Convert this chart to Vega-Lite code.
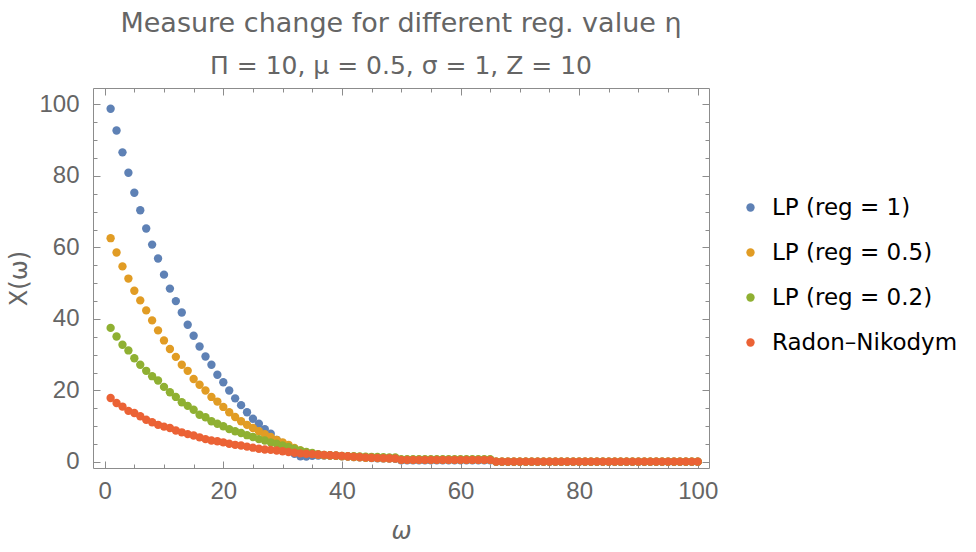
{
"$schema": "https://vega.github.io/schema/vega-lite/v6.json",
"width": 616, "height": 380,
"autosize": {"type": "none"},
"padding": {"left": 93, "top": 88, "right": 267, "bottom": 84},
"background": "white",
"title": {"text": "Measure change for different reg. value η", "subtitle": "Π = 10, μ = 0.5, σ = 1, Z = 10", "font": "DejaVu Sans", "fontSize": 27, "fontWeight": "normal", "color": "#656565", "subtitleFont": "DejaVu Sans", "subtitleFontSize": 25, "subtitleColor": "#656565", "subtitlePadding": 16, "anchor": "middle", "offset": 8},
"config": {
  "view": {"stroke": null},
  "axis": {"labelFont": "Liberation Sans", "titleFont": "DejaVu Sans", "labelFontSize": 24, "labelColor": "#656565", "titleColor": "#656565", "titleFontSize": 24, "titleFontWeight": "normal", "domainColor": "#8c8c8c", "tickColor": "#8c8c8c", "grid": false, "labelFlush": false, "labelOverlap": false}
},
"datasets": {"pts": [
{"w":1,"v":98.8,"s":"LP (reg = 1)"},{"w":2,"v":92.7,"s":"LP (reg = 1)"},{"w":3,"v":86.6,"s":"LP (reg = 1)"},{"w":4,"v":80.9,"s":"LP (reg = 1)"},{"w":5,"v":75.3,"s":"LP (reg = 1)"},{"w":6,"v":70.4,"s":"LP (reg = 1)"},{"w":7,"v":65.3,"s":"LP (reg = 1)"},{"w":8,"v":60.8,"s":"LP (reg = 1)"},{"w":9,"v":56.9,"s":"LP (reg = 1)"},{"w":10,"v":52.4,"s":"LP (reg = 1)"},
{"w":11,"v":48.5,"s":"LP (reg = 1)"},{"w":12,"v":45.0,"s":"LP (reg = 1)"},{"w":13,"v":41.8,"s":"LP (reg = 1)"},{"w":14,"v":38.4,"s":"LP (reg = 1)"},{"w":15,"v":35.3,"s":"LP (reg = 1)"},{"w":16,"v":32.3,"s":"LP (reg = 1)"},{"w":17,"v":29.5,"s":"LP (reg = 1)"},{"w":18,"v":27.2,"s":"LP (reg = 1)"},{"w":19,"v":24.4,"s":"LP (reg = 1)"},{"w":20,"v":22.3,"s":"LP (reg = 1)"},
{"w":21,"v":20.0,"s":"LP (reg = 1)"},{"w":22,"v":17.8,"s":"LP (reg = 1)"},{"w":23,"v":15.9,"s":"LP (reg = 1)"},{"w":24,"v":13.9,"s":"LP (reg = 1)"},{"w":25,"v":12.1,"s":"LP (reg = 1)"},{"w":26,"v":10.7,"s":"LP (reg = 1)"},{"w":27,"v":9.2,"s":"LP (reg = 1)"},{"w":28,"v":7.9,"s":"LP (reg = 1)"},{"w":29,"v":6.2,"s":"LP (reg = 1)"},{"w":30,"v":4.8,"s":"LP (reg = 1)"},
{"w":31,"v":3.4,"s":"LP (reg = 1)"},{"w":32,"v":2.3,"s":"LP (reg = 1)"},{"w":33,"v":1.6,"s":"LP (reg = 1)"},{"w":34,"v":1.5,"s":"LP (reg = 1)"},{"w":35,"v":1.7,"s":"LP (reg = 1)"},{"w":36,"v":1.8,"s":"LP (reg = 1)"},{"w":37,"v":1.8,"s":"LP (reg = 1)"},{"w":38,"v":1.8,"s":"LP (reg = 1)"},{"w":39,"v":1.7,"s":"LP (reg = 1)"},{"w":40,"v":1.6,"s":"LP (reg = 1)"},
{"w":41,"v":1.5,"s":"LP (reg = 1)"},{"w":42,"v":1.4,"s":"LP (reg = 1)"},{"w":43,"v":1.3,"s":"LP (reg = 1)"},{"w":44,"v":1.2,"s":"LP (reg = 1)"},{"w":45,"v":1.1,"s":"LP (reg = 1)"},{"w":46,"v":1.05,"s":"LP (reg = 1)"},{"w":47,"v":1.0,"s":"LP (reg = 1)"},{"w":48,"v":0.95,"s":"LP (reg = 1)"},{"w":49,"v":0.9,"s":"LP (reg = 1)"},{"w":50,"v":0.5,"s":"LP (reg = 1)"},
{"w":51,"v":0.5,"s":"LP (reg = 1)"},{"w":52,"v":0.5,"s":"LP (reg = 1)"},{"w":53,"v":0.5,"s":"LP (reg = 1)"},{"w":54,"v":0.5,"s":"LP (reg = 1)"},{"w":55,"v":0.5,"s":"LP (reg = 1)"},{"w":56,"v":0.5,"s":"LP (reg = 1)"},{"w":57,"v":0.5,"s":"LP (reg = 1)"},{"w":58,"v":0.5,"s":"LP (reg = 1)"},{"w":59,"v":0.5,"s":"LP (reg = 1)"},{"w":60,"v":0.5,"s":"LP (reg = 1)"},
{"w":61,"v":0.5,"s":"LP (reg = 1)"},{"w":62,"v":0.5,"s":"LP (reg = 1)"},{"w":63,"v":0.5,"s":"LP (reg = 1)"},{"w":64,"v":0.5,"s":"LP (reg = 1)"},{"w":65,"v":0.5,"s":"LP (reg = 1)"},{"w":66,"v":0.05,"s":"LP (reg = 1)"},{"w":67,"v":0.05,"s":"LP (reg = 1)"},{"w":68,"v":0.05,"s":"LP (reg = 1)"},{"w":69,"v":0.05,"s":"LP (reg = 1)"},{"w":70,"v":0.05,"s":"LP (reg = 1)"},
{"w":71,"v":0.05,"s":"LP (reg = 1)"},{"w":72,"v":0.05,"s":"LP (reg = 1)"},{"w":73,"v":0.05,"s":"LP (reg = 1)"},{"w":74,"v":0.05,"s":"LP (reg = 1)"},{"w":75,"v":0.05,"s":"LP (reg = 1)"},{"w":76,"v":0.05,"s":"LP (reg = 1)"},{"w":77,"v":0.05,"s":"LP (reg = 1)"},{"w":78,"v":0.05,"s":"LP (reg = 1)"},{"w":79,"v":0.05,"s":"LP (reg = 1)"},{"w":80,"v":0.05,"s":"LP (reg = 1)"},
{"w":81,"v":0.05,"s":"LP (reg = 1)"},{"w":82,"v":0.05,"s":"LP (reg = 1)"},{"w":83,"v":0.05,"s":"LP (reg = 1)"},{"w":84,"v":0.05,"s":"LP (reg = 1)"},{"w":85,"v":0.05,"s":"LP (reg = 1)"},{"w":86,"v":0.05,"s":"LP (reg = 1)"},{"w":87,"v":0.05,"s":"LP (reg = 1)"},{"w":88,"v":0.05,"s":"LP (reg = 1)"},{"w":89,"v":0.05,"s":"LP (reg = 1)"},{"w":90,"v":0.05,"s":"LP (reg = 1)"},
{"w":91,"v":0.05,"s":"LP (reg = 1)"},{"w":92,"v":0.05,"s":"LP (reg = 1)"},{"w":93,"v":0.05,"s":"LP (reg = 1)"},{"w":94,"v":0.05,"s":"LP (reg = 1)"},{"w":95,"v":0.05,"s":"LP (reg = 1)"},{"w":96,"v":0.05,"s":"LP (reg = 1)"},{"w":97,"v":0.05,"s":"LP (reg = 1)"},{"w":98,"v":0.05,"s":"LP (reg = 1)"},{"w":99,"v":0.05,"s":"LP (reg = 1)"},{"w":100,"v":0.05,"s":"LP (reg = 1)"},
{"w":1,"v":62.6,"s":"LP (reg = 0.5)"},{"w":2,"v":58.6,"s":"LP (reg = 0.5)"},{"w":3,"v":54.7,"s":"LP (reg = 0.5)"},{"w":4,"v":51.3,"s":"LP (reg = 0.5)"},{"w":5,"v":47.9,"s":"LP (reg = 0.5)"},{"w":6,"v":45.2,"s":"LP (reg = 0.5)"},{"w":7,"v":42.4,"s":"LP (reg = 0.5)"},{"w":8,"v":39.6,"s":"LP (reg = 0.5)"},{"w":9,"v":36.8,"s":"LP (reg = 0.5)"},{"w":10,"v":34.0,"s":"LP (reg = 0.5)"},
{"w":11,"v":31.6,"s":"LP (reg = 0.5)"},{"w":12,"v":29.4,"s":"LP (reg = 0.5)"},{"w":13,"v":27.2,"s":"LP (reg = 0.5)"},{"w":14,"v":25.5,"s":"LP (reg = 0.5)"},{"w":15,"v":23.2,"s":"LP (reg = 0.5)"},{"w":16,"v":21.6,"s":"LP (reg = 0.5)"},{"w":17,"v":20.0,"s":"LP (reg = 0.5)"},{"w":18,"v":18.2,"s":"LP (reg = 0.5)"},{"w":19,"v":16.9,"s":"LP (reg = 0.5)"},{"w":20,"v":15.4,"s":"LP (reg = 0.5)"},
{"w":21,"v":13.9,"s":"LP (reg = 0.5)"},{"w":22,"v":12.6,"s":"LP (reg = 0.5)"},{"w":23,"v":11.4,"s":"LP (reg = 0.5)"},{"w":24,"v":10.4,"s":"LP (reg = 0.5)"},{"w":25,"v":9.5,"s":"LP (reg = 0.5)"},{"w":26,"v":8.6,"s":"LP (reg = 0.5)"},{"w":27,"v":7.8,"s":"LP (reg = 0.5)"},{"w":28,"v":7.0,"s":"LP (reg = 0.5)"},{"w":29,"v":6.2,"s":"LP (reg = 0.5)"},{"w":30,"v":5.5,"s":"LP (reg = 0.5)"},
{"w":31,"v":4.8,"s":"LP (reg = 0.5)"},{"w":32,"v":3.9,"s":"LP (reg = 0.5)"},{"w":33,"v":3.2,"s":"LP (reg = 0.5)"},{"w":34,"v":2.7,"s":"LP (reg = 0.5)"},{"w":35,"v":2.3,"s":"LP (reg = 0.5)"},{"w":36,"v":2.0,"s":"LP (reg = 0.5)"},{"w":37,"v":1.9,"s":"LP (reg = 0.5)"},{"w":38,"v":1.8,"s":"LP (reg = 0.5)"},{"w":39,"v":1.7,"s":"LP (reg = 0.5)"},{"w":40,"v":1.6,"s":"LP (reg = 0.5)"},
{"w":41,"v":1.5,"s":"LP (reg = 0.5)"},{"w":42,"v":1.4,"s":"LP (reg = 0.5)"},{"w":43,"v":1.3,"s":"LP (reg = 0.5)"},{"w":44,"v":1.2,"s":"LP (reg = 0.5)"},{"w":45,"v":1.15,"s":"LP (reg = 0.5)"},{"w":46,"v":1.1,"s":"LP (reg = 0.5)"},{"w":47,"v":1.05,"s":"LP (reg = 0.5)"},{"w":48,"v":1.0,"s":"LP (reg = 0.5)"},{"w":49,"v":1.0,"s":"LP (reg = 0.5)"},{"w":50,"v":0.6,"s":"LP (reg = 0.5)"},
{"w":51,"v":0.6,"s":"LP (reg = 0.5)"},{"w":52,"v":0.6,"s":"LP (reg = 0.5)"},{"w":53,"v":0.6,"s":"LP (reg = 0.5)"},{"w":54,"v":0.6,"s":"LP (reg = 0.5)"},{"w":55,"v":0.6,"s":"LP (reg = 0.5)"},{"w":56,"v":0.6,"s":"LP (reg = 0.5)"},{"w":57,"v":0.6,"s":"LP (reg = 0.5)"},{"w":58,"v":0.6,"s":"LP (reg = 0.5)"},{"w":59,"v":0.6,"s":"LP (reg = 0.5)"},{"w":60,"v":0.6,"s":"LP (reg = 0.5)"},
{"w":61,"v":0.6,"s":"LP (reg = 0.5)"},{"w":62,"v":0.6,"s":"LP (reg = 0.5)"},{"w":63,"v":0.6,"s":"LP (reg = 0.5)"},{"w":64,"v":0.6,"s":"LP (reg = 0.5)"},{"w":65,"v":0.6,"s":"LP (reg = 0.5)"},{"w":66,"v":0.1,"s":"LP (reg = 0.5)"},{"w":67,"v":0.1,"s":"LP (reg = 0.5)"},{"w":68,"v":0.1,"s":"LP (reg = 0.5)"},{"w":69,"v":0.1,"s":"LP (reg = 0.5)"},{"w":70,"v":0.1,"s":"LP (reg = 0.5)"},
{"w":71,"v":0.1,"s":"LP (reg = 0.5)"},{"w":72,"v":0.1,"s":"LP (reg = 0.5)"},{"w":73,"v":0.1,"s":"LP (reg = 0.5)"},{"w":74,"v":0.1,"s":"LP (reg = 0.5)"},{"w":75,"v":0.1,"s":"LP (reg = 0.5)"},{"w":76,"v":0.1,"s":"LP (reg = 0.5)"},{"w":77,"v":0.1,"s":"LP (reg = 0.5)"},{"w":78,"v":0.1,"s":"LP (reg = 0.5)"},{"w":79,"v":0.1,"s":"LP (reg = 0.5)"},{"w":80,"v":0.1,"s":"LP (reg = 0.5)"},
{"w":81,"v":0.1,"s":"LP (reg = 0.5)"},{"w":82,"v":0.1,"s":"LP (reg = 0.5)"},{"w":83,"v":0.1,"s":"LP (reg = 0.5)"},{"w":84,"v":0.1,"s":"LP (reg = 0.5)"},{"w":85,"v":0.1,"s":"LP (reg = 0.5)"},{"w":86,"v":0.1,"s":"LP (reg = 0.5)"},{"w":87,"v":0.1,"s":"LP (reg = 0.5)"},{"w":88,"v":0.1,"s":"LP (reg = 0.5)"},{"w":89,"v":0.1,"s":"LP (reg = 0.5)"},{"w":90,"v":0.1,"s":"LP (reg = 0.5)"},
{"w":91,"v":0.1,"s":"LP (reg = 0.5)"},{"w":92,"v":0.1,"s":"LP (reg = 0.5)"},{"w":93,"v":0.1,"s":"LP (reg = 0.5)"},{"w":94,"v":0.1,"s":"LP (reg = 0.5)"},{"w":95,"v":0.1,"s":"LP (reg = 0.5)"},{"w":96,"v":0.1,"s":"LP (reg = 0.5)"},{"w":97,"v":0.1,"s":"LP (reg = 0.5)"},{"w":98,"v":0.1,"s":"LP (reg = 0.5)"},{"w":99,"v":0.1,"s":"LP (reg = 0.5)"},{"w":100,"v":0.1,"s":"LP (reg = 0.5)"},
{"w":1,"v":37.5,"s":"LP (reg = 0.2)"},{"w":2,"v":35.1,"s":"LP (reg = 0.2)"},{"w":3,"v":32.8,"s":"LP (reg = 0.2)"},{"w":4,"v":31.2,"s":"LP (reg = 0.2)"},{"w":5,"v":29.0,"s":"LP (reg = 0.2)"},{"w":6,"v":27.2,"s":"LP (reg = 0.2)"},{"w":7,"v":25.5,"s":"LP (reg = 0.2)"},{"w":8,"v":24.0,"s":"LP (reg = 0.2)"},{"w":9,"v":22.8,"s":"LP (reg = 0.2)"},{"w":10,"v":21.0,"s":"LP (reg = 0.2)"},
{"w":11,"v":19.5,"s":"LP (reg = 0.2)"},{"w":12,"v":18.2,"s":"LP (reg = 0.2)"},{"w":13,"v":16.7,"s":"LP (reg = 0.2)"},{"w":14,"v":15.7,"s":"LP (reg = 0.2)"},{"w":15,"v":14.6,"s":"LP (reg = 0.2)"},{"w":16,"v":13.2,"s":"LP (reg = 0.2)"},{"w":17,"v":12.5,"s":"LP (reg = 0.2)"},{"w":18,"v":11.4,"s":"LP (reg = 0.2)"},{"w":19,"v":10.7,"s":"LP (reg = 0.2)"},{"w":20,"v":10.0,"s":"LP (reg = 0.2)"},
{"w":21,"v":9.2,"s":"LP (reg = 0.2)"},{"w":22,"v":8.6,"s":"LP (reg = 0.2)"},{"w":23,"v":8.1,"s":"LP (reg = 0.2)"},{"w":24,"v":7.5,"s":"LP (reg = 0.2)"},{"w":25,"v":7.0,"s":"LP (reg = 0.2)"},{"w":26,"v":6.4,"s":"LP (reg = 0.2)"},{"w":27,"v":6.0,"s":"LP (reg = 0.2)"},{"w":28,"v":5.5,"s":"LP (reg = 0.2)"},{"w":29,"v":5.1,"s":"LP (reg = 0.2)"},{"w":30,"v":4.6,"s":"LP (reg = 0.2)"},
{"w":31,"v":4.2,"s":"LP (reg = 0.2)"},{"w":32,"v":3.7,"s":"LP (reg = 0.2)"},{"w":33,"v":3.2,"s":"LP (reg = 0.2)"},{"w":34,"v":2.8,"s":"LP (reg = 0.2)"},{"w":35,"v":2.5,"s":"LP (reg = 0.2)"},{"w":36,"v":2.2,"s":"LP (reg = 0.2)"},{"w":37,"v":2.0,"s":"LP (reg = 0.2)"},{"w":38,"v":1.9,"s":"LP (reg = 0.2)"},{"w":39,"v":1.8,"s":"LP (reg = 0.2)"},{"w":40,"v":1.7,"s":"LP (reg = 0.2)"},
{"w":41,"v":1.65,"s":"LP (reg = 0.2)"},{"w":42,"v":1.6,"s":"LP (reg = 0.2)"},{"w":43,"v":1.55,"s":"LP (reg = 0.2)"},{"w":44,"v":1.5,"s":"LP (reg = 0.2)"},{"w":45,"v":1.45,"s":"LP (reg = 0.2)"},{"w":46,"v":1.4,"s":"LP (reg = 0.2)"},{"w":47,"v":1.35,"s":"LP (reg = 0.2)"},{"w":48,"v":1.3,"s":"LP (reg = 0.2)"},{"w":49,"v":1.3,"s":"LP (reg = 0.2)"},{"w":50,"v":0.8,"s":"LP (reg = 0.2)"},
{"w":51,"v":0.8,"s":"LP (reg = 0.2)"},{"w":52,"v":0.8,"s":"LP (reg = 0.2)"},{"w":53,"v":0.8,"s":"LP (reg = 0.2)"},{"w":54,"v":0.8,"s":"LP (reg = 0.2)"},{"w":55,"v":0.8,"s":"LP (reg = 0.2)"},{"w":56,"v":0.8,"s":"LP (reg = 0.2)"},{"w":57,"v":0.8,"s":"LP (reg = 0.2)"},{"w":58,"v":0.8,"s":"LP (reg = 0.2)"},{"w":59,"v":0.8,"s":"LP (reg = 0.2)"},{"w":60,"v":0.8,"s":"LP (reg = 0.2)"},
{"w":61,"v":0.8,"s":"LP (reg = 0.2)"},{"w":62,"v":0.8,"s":"LP (reg = 0.2)"},{"w":63,"v":0.8,"s":"LP (reg = 0.2)"},{"w":64,"v":0.8,"s":"LP (reg = 0.2)"},{"w":65,"v":0.8,"s":"LP (reg = 0.2)"},{"w":66,"v":0.1,"s":"LP (reg = 0.2)"},{"w":67,"v":0.1,"s":"LP (reg = 0.2)"},{"w":68,"v":0.1,"s":"LP (reg = 0.2)"},{"w":69,"v":0.1,"s":"LP (reg = 0.2)"},{"w":70,"v":0.1,"s":"LP (reg = 0.2)"},
{"w":71,"v":0.1,"s":"LP (reg = 0.2)"},{"w":72,"v":0.1,"s":"LP (reg = 0.2)"},{"w":73,"v":0.1,"s":"LP (reg = 0.2)"},{"w":74,"v":0.1,"s":"LP (reg = 0.2)"},{"w":75,"v":0.1,"s":"LP (reg = 0.2)"},{"w":76,"v":0.1,"s":"LP (reg = 0.2)"},{"w":77,"v":0.1,"s":"LP (reg = 0.2)"},{"w":78,"v":0.1,"s":"LP (reg = 0.2)"},{"w":79,"v":0.1,"s":"LP (reg = 0.2)"},{"w":80,"v":0.1,"s":"LP (reg = 0.2)"},
{"w":81,"v":0.1,"s":"LP (reg = 0.2)"},{"w":82,"v":0.1,"s":"LP (reg = 0.2)"},{"w":83,"v":0.1,"s":"LP (reg = 0.2)"},{"w":84,"v":0.1,"s":"LP (reg = 0.2)"},{"w":85,"v":0.1,"s":"LP (reg = 0.2)"},{"w":86,"v":0.1,"s":"LP (reg = 0.2)"},{"w":87,"v":0.1,"s":"LP (reg = 0.2)"},{"w":88,"v":0.1,"s":"LP (reg = 0.2)"},{"w":89,"v":0.1,"s":"LP (reg = 0.2)"},{"w":90,"v":0.1,"s":"LP (reg = 0.2)"},
{"w":91,"v":0.1,"s":"LP (reg = 0.2)"},{"w":92,"v":0.1,"s":"LP (reg = 0.2)"},{"w":93,"v":0.1,"s":"LP (reg = 0.2)"},{"w":94,"v":0.1,"s":"LP (reg = 0.2)"},{"w":95,"v":0.1,"s":"LP (reg = 0.2)"},{"w":96,"v":0.1,"s":"LP (reg = 0.2)"},{"w":97,"v":0.1,"s":"LP (reg = 0.2)"},{"w":98,"v":0.1,"s":"LP (reg = 0.2)"},{"w":99,"v":0.1,"s":"LP (reg = 0.2)"},{"w":100,"v":0.1,"s":"LP (reg = 0.2)"},
{"w":1,"v":17.9,"s":"Radon–Nikodym"},{"w":2,"v":16.5,"s":"Radon–Nikodym"},{"w":3,"v":15.5,"s":"Radon–Nikodym"},{"w":4,"v":14.3,"s":"Radon–Nikodym"},{"w":5,"v":13.7,"s":"Radon–Nikodym"},{"w":6,"v":12.8,"s":"Radon–Nikodym"},{"w":7,"v":11.8,"s":"Radon–Nikodym"},{"w":8,"v":11.1,"s":"Radon–Nikodym"},{"w":9,"v":10.4,"s":"Radon–Nikodym"},{"w":10,"v":9.9,"s":"Radon–Nikodym"},
{"w":11,"v":9.5,"s":"Radon–Nikodym"},{"w":12,"v":8.8,"s":"Radon–Nikodym"},{"w":13,"v":8.3,"s":"Radon–Nikodym"},{"w":14,"v":7.8,"s":"Radon–Nikodym"},{"w":15,"v":7.4,"s":"Radon–Nikodym"},{"w":16,"v":6.9,"s":"Radon–Nikodym"},{"w":17,"v":6.4,"s":"Radon–Nikodym"},{"w":18,"v":6.0,"s":"Radon–Nikodym"},{"w":19,"v":5.8,"s":"Radon–Nikodym"},{"w":20,"v":5.5,"s":"Radon–Nikodym"},
{"w":21,"v":5.1,"s":"Radon–Nikodym"},{"w":22,"v":4.8,"s":"Radon–Nikodym"},{"w":23,"v":4.6,"s":"Radon–Nikodym"},{"w":24,"v":4.3,"s":"Radon–Nikodym"},{"w":25,"v":4.0,"s":"Radon–Nikodym"},{"w":26,"v":3.7,"s":"Radon–Nikodym"},{"w":27,"v":3.5,"s":"Radon–Nikodym"},{"w":28,"v":3.4,"s":"Radon–Nikodym"},{"w":29,"v":3.2,"s":"Radon–Nikodym"},{"w":30,"v":3.0,"s":"Radon–Nikodym"},
{"w":31,"v":2.8,"s":"Radon–Nikodym"},{"w":32,"v":2.6,"s":"Radon–Nikodym"},{"w":33,"v":2.4,"s":"Radon–Nikodym"},{"w":34,"v":2.3,"s":"Radon–Nikodym"},{"w":35,"v":2.2,"s":"Radon–Nikodym"},{"w":36,"v":2.1,"s":"Radon–Nikodym"},{"w":37,"v":2.0,"s":"Radon–Nikodym"},{"w":38,"v":1.9,"s":"Radon–Nikodym"},{"w":39,"v":1.8,"s":"Radon–Nikodym"},{"w":40,"v":1.7,"s":"Radon–Nikodym"},
{"w":41,"v":1.6,"s":"Radon–Nikodym"},{"w":42,"v":1.5,"s":"Radon–Nikodym"},{"w":43,"v":1.4,"s":"Radon–Nikodym"},{"w":44,"v":1.3,"s":"Radon–Nikodym"},{"w":45,"v":1.2,"s":"Radon–Nikodym"},{"w":46,"v":1.15,"s":"Radon–Nikodym"},{"w":47,"v":1.1,"s":"Radon–Nikodym"},{"w":48,"v":1.05,"s":"Radon–Nikodym"},{"w":49,"v":1.0,"s":"Radon–Nikodym"},{"w":50,"v":0.6,"s":"Radon–Nikodym"},
{"w":51,"v":0.6,"s":"Radon–Nikodym"},{"w":52,"v":0.6,"s":"Radon–Nikodym"},{"w":53,"v":0.6,"s":"Radon–Nikodym"},{"w":54,"v":0.6,"s":"Radon–Nikodym"},{"w":55,"v":0.6,"s":"Radon–Nikodym"},{"w":56,"v":0.6,"s":"Radon–Nikodym"},{"w":57,"v":0.6,"s":"Radon–Nikodym"},{"w":58,"v":0.6,"s":"Radon–Nikodym"},{"w":59,"v":0.6,"s":"Radon–Nikodym"},{"w":60,"v":0.6,"s":"Radon–Nikodym"},
{"w":61,"v":0.6,"s":"Radon–Nikodym"},{"w":62,"v":0.6,"s":"Radon–Nikodym"},{"w":63,"v":0.6,"s":"Radon–Nikodym"},{"w":64,"v":0.6,"s":"Radon–Nikodym"},{"w":65,"v":0.6,"s":"Radon–Nikodym"},{"w":66,"v":0.1,"s":"Radon–Nikodym"},{"w":67,"v":0.1,"s":"Radon–Nikodym"},{"w":68,"v":0.1,"s":"Radon–Nikodym"},{"w":69,"v":0.1,"s":"Radon–Nikodym"},{"w":70,"v":0.1,"s":"Radon–Nikodym"},
{"w":71,"v":0.1,"s":"Radon–Nikodym"},{"w":72,"v":0.1,"s":"Radon–Nikodym"},{"w":73,"v":0.1,"s":"Radon–Nikodym"},{"w":74,"v":0.1,"s":"Radon–Nikodym"},{"w":75,"v":0.1,"s":"Radon–Nikodym"},{"w":76,"v":0.1,"s":"Radon–Nikodym"},{"w":77,"v":0.1,"s":"Radon–Nikodym"},{"w":78,"v":0.1,"s":"Radon–Nikodym"},{"w":79,"v":0.1,"s":"Radon–Nikodym"},{"w":80,"v":0.1,"s":"Radon–Nikodym"},
{"w":81,"v":0.1,"s":"Radon–Nikodym"},{"w":82,"v":0.1,"s":"Radon–Nikodym"},{"w":83,"v":0.1,"s":"Radon–Nikodym"},{"w":84,"v":0.1,"s":"Radon–Nikodym"},{"w":85,"v":0.1,"s":"Radon–Nikodym"},{"w":86,"v":0.1,"s":"Radon–Nikodym"},{"w":87,"v":0.1,"s":"Radon–Nikodym"},{"w":88,"v":0.1,"s":"Radon–Nikodym"},{"w":89,"v":0.1,"s":"Radon–Nikodym"},{"w":90,"v":0.1,"s":"Radon–Nikodym"},
{"w":91,"v":0.1,"s":"Radon–Nikodym"},{"w":92,"v":0.1,"s":"Radon–Nikodym"},{"w":93,"v":0.1,"s":"Radon–Nikodym"},{"w":94,"v":0.1,"s":"Radon–Nikodym"},{"w":95,"v":0.1,"s":"Radon–Nikodym"},{"w":96,"v":0.1,"s":"Radon–Nikodym"},{"w":97,"v":0.1,"s":"Radon–Nikodym"},{"w":98,"v":0.1,"s":"Radon–Nikodym"},{"w":99,"v":0.1,"s":"Radon–Nikodym"},{"w":100,"v":0.1,"s":"Radon–Nikodym"}
]},
"data": {"name": "pts"},
"layer": [
 {"mark": {"type": "point", "filled": true, "opacity": 1, "size": 70, "strokeWidth": 0},
  "encoding": {
   "x": {"field": "w", "type": "quantitative", "scale": {"domain": [-1.97, 101.9], "nice": false, "zero": false},
         "axis": {"orient": "bottom", "values": [0, 20, 40, 60, 80, 100], "tickSize": -7, "labelPadding": 18, "title": "ω", "titleFontStyle": "italic", "titlePadding": 16}},
   "y": {"field": "v", "type": "quantitative", "scale": {"domain": [-1.68, 104.6], "nice": false, "zero": false},
         "axis": {"orient": "left", "values": [0, 20, 40, 60, 80, 100], "tickSize": -7, "labelPadding": 21, "title": "X(ω)", "titlePadding": 7}},
   "color": {"field": "s", "type": "nominal",
     "scale": {"domain": ["LP (reg = 1)", "LP (reg = 0.5)", "LP (reg = 0.2)", "Radon–Nikodym"], "range": ["#5E81B5", "#E19C24", "#8FB032", "#EB6235"]},
     "legend": {"orient": "none", "legendX": 646, "legendY": 108, "title": null, "labelFont": "DejaVu Sans", "labelFontSize": 23, "labelColor": "#000000", "labelLimit": 0, "symbolType": "circle", "symbolSize": 70, "rowPadding": 21, "labelOffset": 10, "symbolStrokeWidth": 0}}
  }},
 {"mark": {"type": "point", "opacity": 0},
  "encoding": {
   "x": {"field": "w", "type": "quantitative", "axis": {"orient": "bottom", "values": [5,10,15,25,30,35,45,50,55,65,70,75,85,90,95], "tickSize": -4, "labels": false, "domain": false, "title": null}},
   "y": {"field": "v", "type": "quantitative", "axis": {"orient": "left", "values": [5,10,15,25,30,35,45,50,55,65,70,75,85,90,95], "tickSize": -4, "labels": false, "domain": false, "title": null}}
  }},
 {"mark": {"type": "point", "opacity": 0},
  "encoding": {
   "x": {"field": "w", "type": "quantitative", "axis": {"orient": "top", "values": [0, 20, 40, 60, 80, 100], "tickSize": -7, "labels": false, "title": null}},
   "y": {"field": "v", "type": "quantitative", "axis": {"orient": "right", "values": [0, 20, 40, 60, 80, 100], "tickSize": -7, "labels": false, "title": null}}
  }},
 {"mark": {"type": "point", "opacity": 0},
  "encoding": {
   "x": {"field": "w", "type": "quantitative", "axis": {"orient": "top", "values": [5,10,15,25,30,35,45,50,55,65,70,75,85,90,95], "tickSize": -4, "labels": false, "domain": false, "title": null}},
   "y": {"field": "v", "type": "quantitative", "axis": {"orient": "right", "values": [5,10,15,25,30,35,45,50,55,65,70,75,85,90,95], "tickSize": -4, "labels": false, "domain": false, "title": null}}
  }}
],
"resolve": {"axis": {"x": "independent", "y": "independent"}}
}
